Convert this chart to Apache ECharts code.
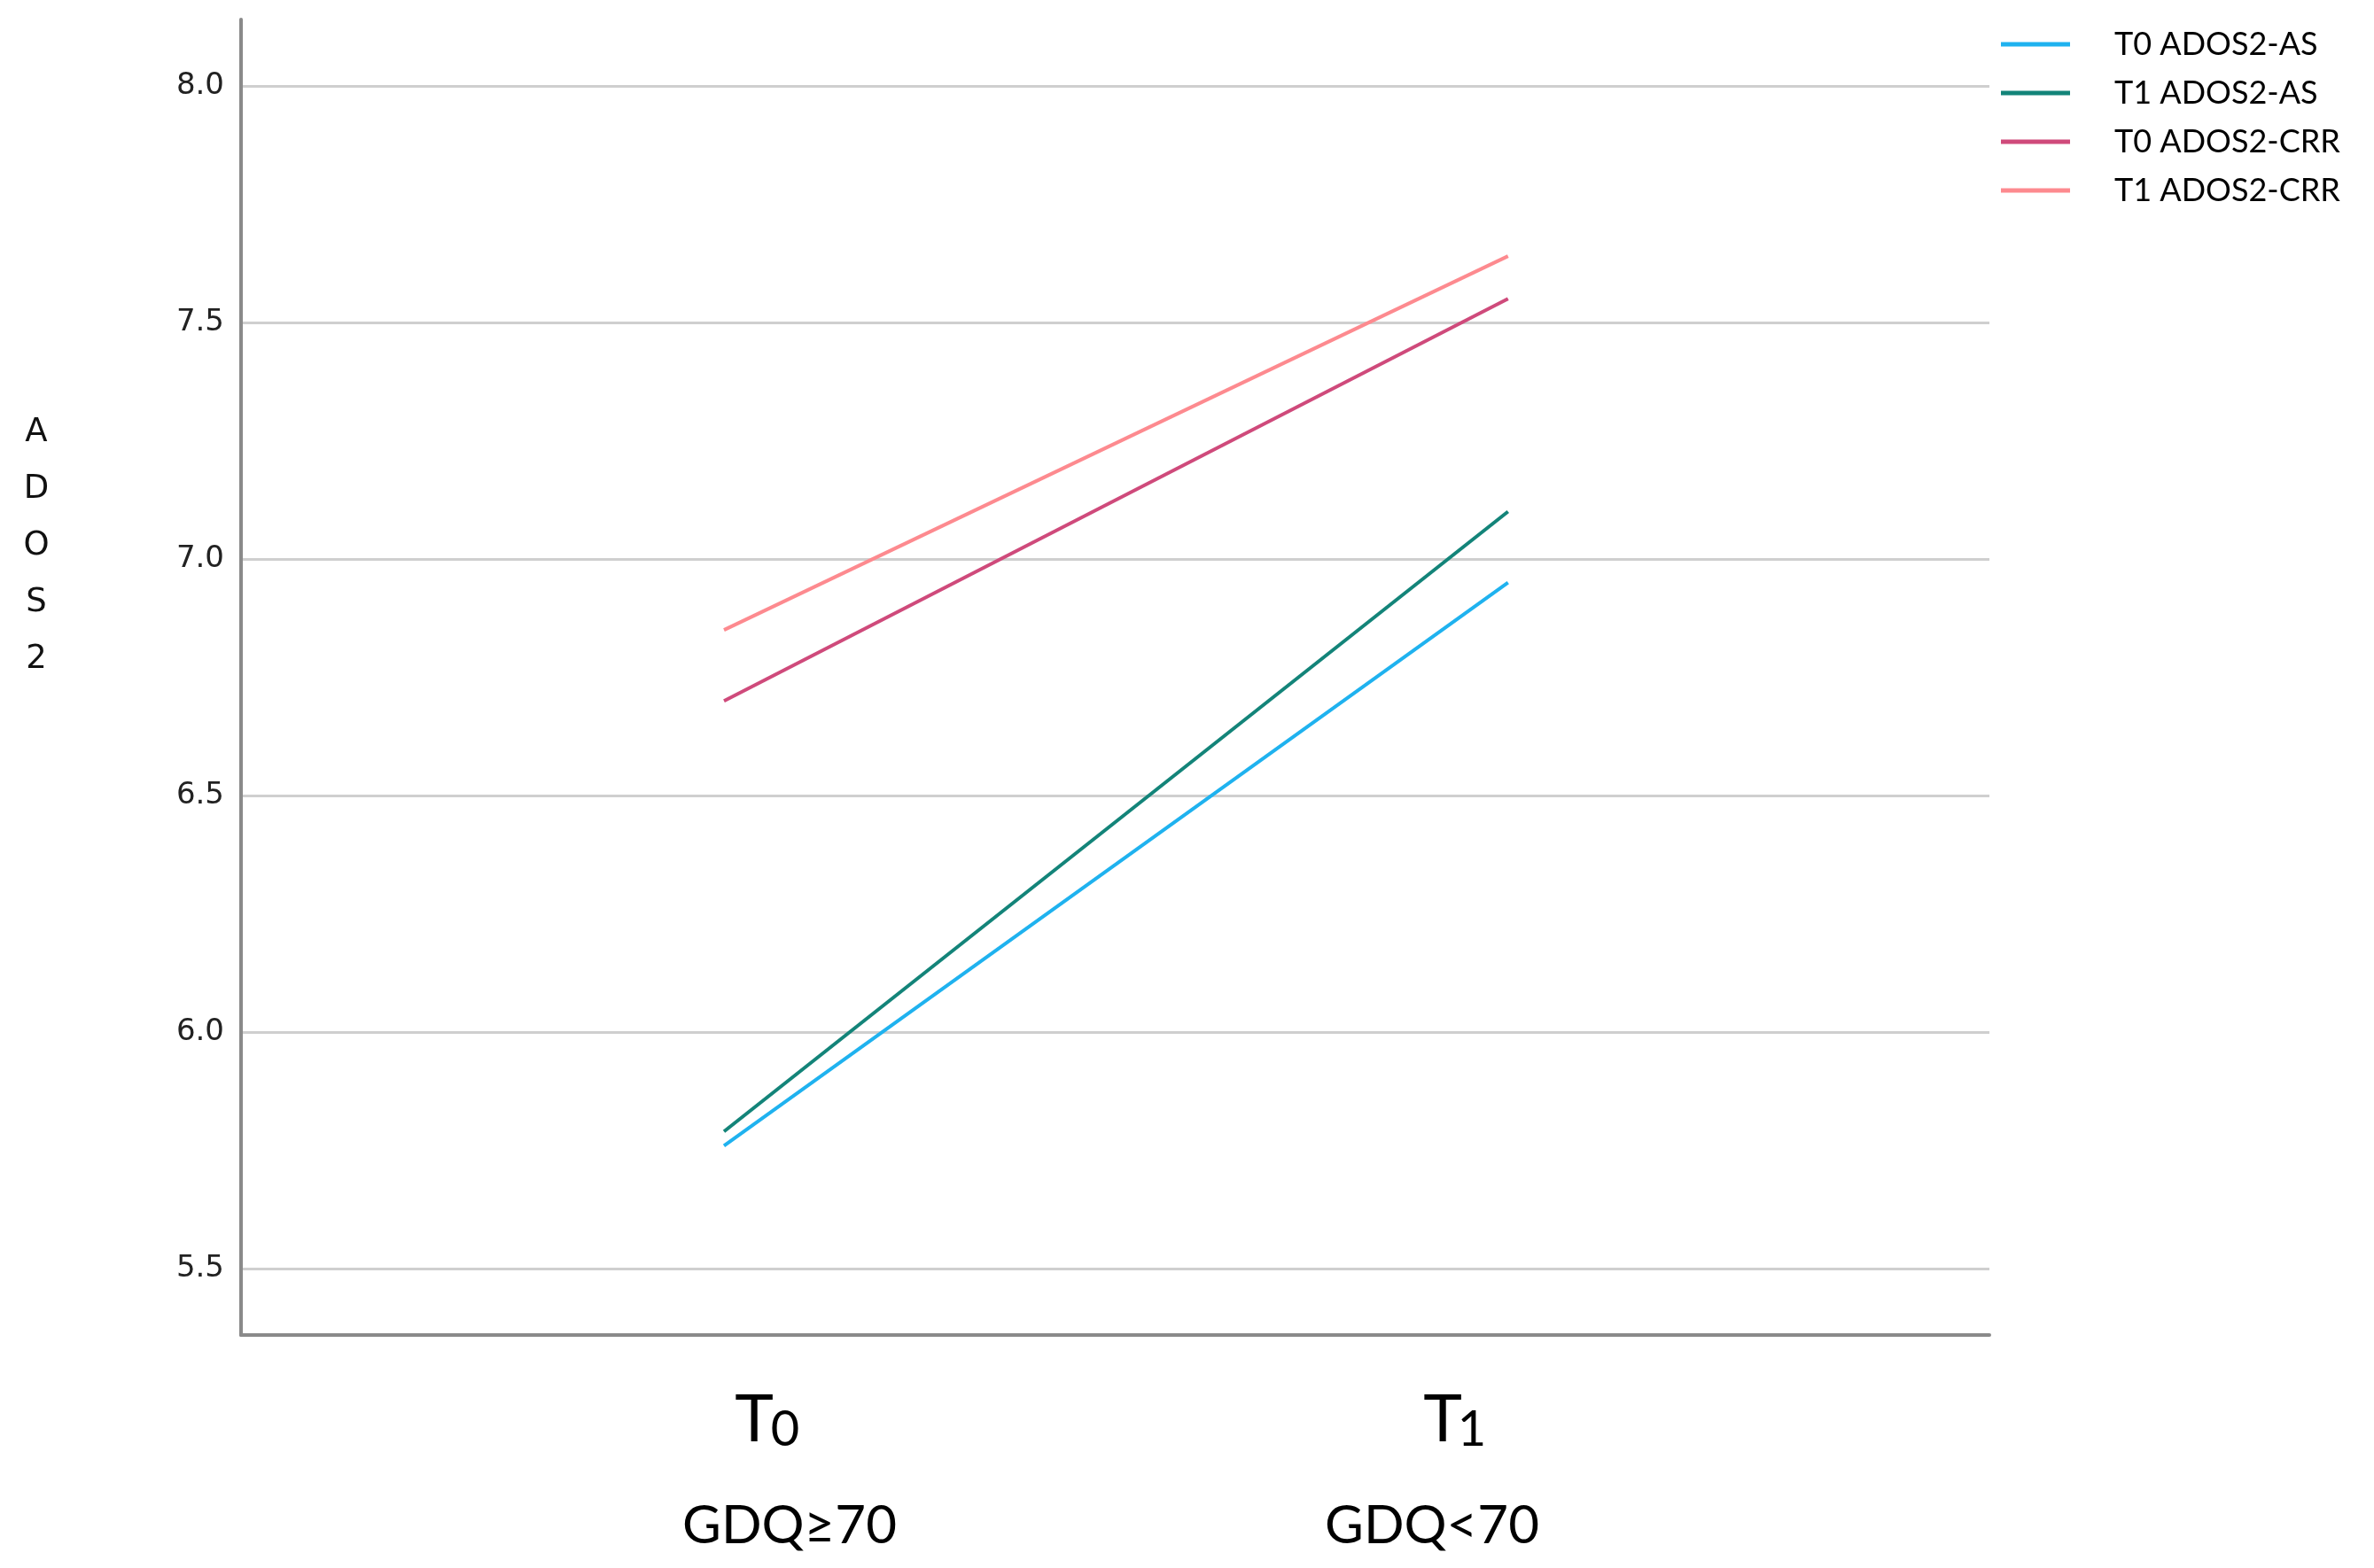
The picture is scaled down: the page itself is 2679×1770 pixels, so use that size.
<!DOCTYPE html>
<html>
<head>
<meta charset="utf-8">
<script src="https://cdn.jsdelivr.net/npm/echarts@6/dist/echarts.min.js"></script>
<style>
html,body{margin:0;padding:0;background:#fff;}
#chart{width:2679px;height:1770px;}
</style>
</head>
<body>
<div id="chart"></div>
<script>
// Data
var timePoints = [0, 1];               // T0, T1 positions on x
var seriesNames = ['T0 ADOS2-AS', 'T1 ADOS2-AS', 'T0 ADOS2-CRR', 'T1 ADOS2-CRR'];
var t0AdosAS  = [5.76, 6.95];
var t1AdosAS  = [5.79, 7.10];
var t0AdosCRR = [6.70, 7.55];
var t1AdosCRR = [6.85, 7.64];
var seriesColors = ['#1fb2ef', '#138479', '#cf4a7b', '#fd8a8f'];
var yTicks = ['5.5', '6.0', '6.5', '7.0', '7.5', '8.0'];
var yTitle = ['A', 'D', 'O', 'S', '2'];

var allValues = [t0AdosAS, t1AdosAS, t0AdosCRR, t1AdosCRR];

function pairs(vals) {
  return timePoints.map(function (x, i) { return [x, vals[i]]; });
}

var chart = echarts.init(document.getElementById('chart'), null, {renderer: 'canvas'});

var series = seriesNames.map(function (name, i) {
  return {
    name: name,
    type: 'line',
    data: pairs(allValues[i]),
    showSymbol: false,
    symbol: 'none',
    lineStyle: {width: 4, color: seriesColors[i]},
    itemStyle: {color: seriesColors[i]},
    emphasis: {disabled: true},
    animation: false,
    z: 3
  };
});

var graphics = [];
// y axis title stacked letters
yTitle.forEach(function (ch, i) {
  graphics.push({
    type: 'text', x: 41, y: 488 + i * 64,
    style: {text: ch, font: '37px "DejaVu Sans"', fill: '#111', align: 'center', verticalAlign: 'middle'}
  });
});
// x category labels
var xMain = [{t: 'T', s: '0', tx: 851, sx: 886}, {t: 'T', s: '1', tx: 1628, sx: 1661}];
xMain.forEach(function (m) {
  graphics.push({type: 'text', x: m.tx, y: 1603,
    style: {text: m.t, font: '74px Lato', fill: '#000', align: 'center', verticalAlign: 'middle'}});
  graphics.push({type: 'text', x: m.sx, y: 1614,
    style: {text: m.s, font: '56px Lato', fill: '#000', align: 'center', verticalAlign: 'middle'}});
});
var xSub = [{text: 'GDQ≥70', x: 891}, {text: 'GDQ<70', x: 1616}];
xSub.forEach(function (m) {
  graphics.push({type: 'text', x: m.x, y: 1723,
    style: {text: m.text, font: '60px Lato', fill: '#000', align: 'center', verticalAlign: 'middle'}});
});

chart.setOption({
  backgroundColor: '#ffffff',
  animation: false,
  grid: {left: 272, right: 434, top: 22, bottom: 263, containLabel: false},
  legend: {
    data: seriesNames,
    orient: 'vertical',
    left: 2253,
    top: 25,
    icon: 'rect',
    itemWidth: 78,
    itemHeight: 5,
    itemGap: 15,
    selectedMode: false,
    textStyle: {fontFamily: 'Lato', fontSize: 36, color: '#000', lineHeight: 40, padding: [0, 0, 0, 45]}
  },
  xAxis: {
    type: 'value',
    min: -0.616,
    max: 1.614,
    axisLine: {show: true, onZero: false, lineStyle: {color: '#8a8a8a', width: 4}},
    axisTick: {show: false},
    axisLabel: {show: false},
    splitLine: {show: false}
  },
  yAxis: {
    type: 'value',
    min: 5.36,
    max: 8.14,
    splitNumber: 5,
    axisLine: {show: true, onZero: false, lineStyle: {color: '#8a8a8a', width: 4}},
    axisTick: {show: false},
    axisLabel: {
      showMinLabel: false,
      showMaxLabel: false,
      margin: 19,
      fontFamily: 'DejaVu Sans',
      fontSize: 34,
      color: '#222',
      formatter: function (v) {
        var s = v.toFixed(1);
        return yTicks.indexOf(s) >= 0 && Math.abs(v * 2 - Math.round(v * 2)) < 1e-6 ? s : '';
      }
    },
    splitLine: {show: true, showMinLine: false, showMaxLine: false, lineStyle: {color: '#cfcfcf', width: 3}}
  },
  graphic: graphics,
  series: series
});
</script>
</body>
</html>
